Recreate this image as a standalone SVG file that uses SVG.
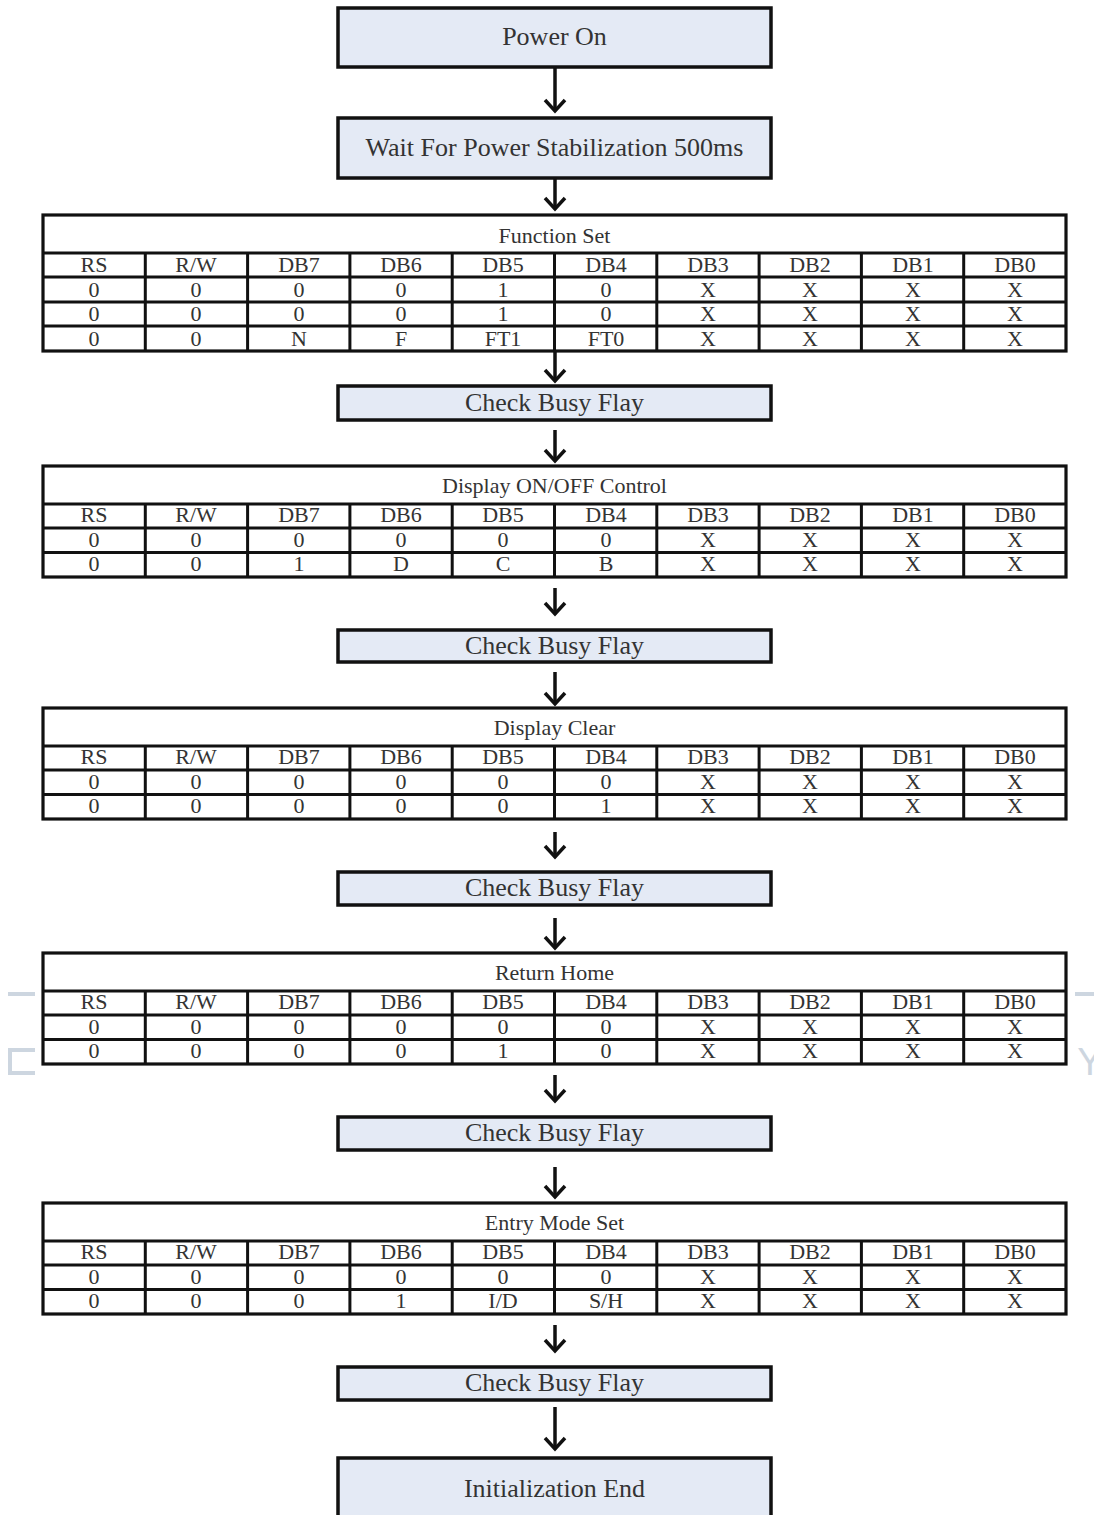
<svg xmlns="http://www.w3.org/2000/svg" width="1094" height="1515" viewBox="0 0 1094 1515">
<defs>
<style>
.box{fill:#e4eaf5;stroke:#111;stroke-width:3.5}
.bt{font-family:"Liberation Serif","Times New Roman",serif;font-size:26px;fill:#333;text-anchor:middle}
.tb{fill:#fff;stroke:#111;stroke-width:3.2}
.ln{stroke:#111;stroke-width:3;fill:none}
.tt{font-family:"Liberation Serif","Times New Roman",serif;font-size:22px;fill:#333;text-anchor:middle}
.ar{stroke:#111;stroke-width:3.5;fill:none}
.wm{fill:#cdd6e0}
</style>
<marker id="ah" viewBox="0 0 24 14" refX="12" refY="12" markerWidth="24" markerHeight="14" markerUnits="userSpaceOnUse" orient="0" overflow="visible">
<path d="M2,1 L12,12 L22,1" fill="none" stroke="#111" stroke-width="3.5"/>
</marker>
</defs>
<rect width="1094" height="1515" fill="#fff"/>

<g id="watermark">
<rect class="wm" x="8" y="992" width="27" height="4"/>
<path d="M35,1050 H10 V1073 H35" fill="none" stroke="#cdd6e0" stroke-width="4"/>
<rect class="wm" x="1075" y="992" width="19" height="4"/>
<text x="1090" y="1075" font-family="Liberation Sans, Arial, sans-serif" font-size="38" fill="#cdd6e0" text-anchor="middle">Y</text>
</g>

<g id="connectors">
<path class="ar" d="M555,67 V111" marker-end="url(#ah)"/>
<path class="ar" d="M555,178 V209" marker-end="url(#ah)"/>
<path class="ar" d="M555,351 V381" marker-end="url(#ah)"/>
<path class="ar" d="M555,430 V461" marker-end="url(#ah)"/>
<path class="ar" d="M555,588 V614" marker-end="url(#ah)"/>
<path class="ar" d="M555,672 V704" marker-end="url(#ah)"/>
<path class="ar" d="M555,832 V857" marker-end="url(#ah)"/>
<path class="ar" d="M555,918 V948" marker-end="url(#ah)"/>
<path class="ar" d="M555,1075 V1101" marker-end="url(#ah)"/>
<path class="ar" d="M555,1167 V1197" marker-end="url(#ah)"/>
<path class="ar" d="M555,1325 V1351" marker-end="url(#ah)"/>
<path class="ar" d="M555,1407 V1449" marker-end="url(#ah)"/>
</g>

<g id="power-on">
<rect class="box" x="338" y="8" width="433" height="59"/>
<text class="bt" x="554.5" y="45">Power On</text>
</g>

<g id="wait-power">
<rect class="box" x="338" y="118" width="433" height="60"/>
<text class="bt" x="554.5" y="156">Wait For Power Stabilization 500ms</text>
</g>

<g id="function-set">
<rect class="tb" x="43" y="215" width="1023" height="136"/>
<path class="ln" d="M43,253 H1066 M43,277 H1066 M43,302 H1066 M43,326 H1066"/>
<path class="ln" d="M145.3,253 V351 M247.6,253 V351 M349.9,253 V351 M452.2,253 V351 M554.5,253 V351 M656.8,253 V351 M759.1,253 V351 M861.4,253 V351 M963.7,253 V351"/>
<text class="tt" x="554.5" y="243">Function Set</text>
<text class="tt" x="94" y="272">RS</text><text class="tt" x="196" y="272">R/W</text><text class="tt" x="299" y="272">DB7</text><text class="tt" x="401" y="272">DB6</text><text class="tt" x="503" y="272">DB5</text><text class="tt" x="606" y="272">DB4</text><text class="tt" x="708" y="272">DB3</text><text class="tt" x="810" y="272">DB2</text><text class="tt" x="913" y="272">DB1</text><text class="tt" x="1015" y="272">DB0</text>
<text class="tt" x="94" y="297">0</text><text class="tt" x="196" y="297">0</text><text class="tt" x="299" y="297">0</text><text class="tt" x="401" y="297">0</text><text class="tt" x="503" y="297">1</text><text class="tt" x="606" y="297">0</text><text class="tt" x="708" y="297">X</text><text class="tt" x="810" y="297">X</text><text class="tt" x="913" y="297">X</text><text class="tt" x="1015" y="297">X</text>
<text class="tt" x="94" y="321">0</text><text class="tt" x="196" y="321">0</text><text class="tt" x="299" y="321">0</text><text class="tt" x="401" y="321">0</text><text class="tt" x="503" y="321">1</text><text class="tt" x="606" y="321">0</text><text class="tt" x="708" y="321">X</text><text class="tt" x="810" y="321">X</text><text class="tt" x="913" y="321">X</text><text class="tt" x="1015" y="321">X</text>
<text class="tt" x="94" y="346">0</text><text class="tt" x="196" y="346">0</text><text class="tt" x="299" y="346">N</text><text class="tt" x="401" y="346">F</text><text class="tt" x="503" y="346">FT1</text><text class="tt" x="606" y="346">FT0</text><text class="tt" x="708" y="346">X</text><text class="tt" x="810" y="346">X</text><text class="tt" x="913" y="346">X</text><text class="tt" x="1015" y="346">X</text>
</g>

<g id="check-busy-1">
<rect class="box" x="338" y="386" width="433" height="34"/>
<text class="bt" x="554.5" y="411">Check Busy Flay</text>
</g>

<g id="display-onoff">
<rect class="tb" x="43" y="466" width="1023" height="111"/>
<path class="ln" d="M43,504 H1066 M43,528 H1066 M43,552.5 H1066"/>
<path class="ln" d="M145.3,504 V577 M247.6,504 V577 M349.9,504 V577 M452.2,504 V577 M554.5,504 V577 M656.8,504 V577 M759.1,504 V577 M861.4,504 V577 M963.7,504 V577"/>
<text class="tt" x="554.5" y="493">Display ON/OFF Control</text>
<text class="tt" x="94" y="522">RS</text><text class="tt" x="196" y="522">R/W</text><text class="tt" x="299" y="522">DB7</text><text class="tt" x="401" y="522">DB6</text><text class="tt" x="503" y="522">DB5</text><text class="tt" x="606" y="522">DB4</text><text class="tt" x="708" y="522">DB3</text><text class="tt" x="810" y="522">DB2</text><text class="tt" x="913" y="522">DB1</text><text class="tt" x="1015" y="522">DB0</text>
<text class="tt" x="94" y="547">0</text><text class="tt" x="196" y="547">0</text><text class="tt" x="299" y="547">0</text><text class="tt" x="401" y="547">0</text><text class="tt" x="503" y="547">0</text><text class="tt" x="606" y="547">0</text><text class="tt" x="708" y="547">X</text><text class="tt" x="810" y="547">X</text><text class="tt" x="913" y="547">X</text><text class="tt" x="1015" y="547">X</text>
<text class="tt" x="94" y="571">0</text><text class="tt" x="196" y="571">0</text><text class="tt" x="299" y="571">1</text><text class="tt" x="401" y="571">D</text><text class="tt" x="503" y="571">C</text><text class="tt" x="606" y="571">B</text><text class="tt" x="708" y="571">X</text><text class="tt" x="810" y="571">X</text><text class="tt" x="913" y="571">X</text><text class="tt" x="1015" y="571">X</text>
</g>

<g id="check-busy-2">
<rect class="box" x="338" y="630" width="433" height="32"/>
<text class="bt" x="554.5" y="654">Check Busy Flay</text>
</g>

<g id="display-clear">
<rect class="tb" x="43" y="708" width="1023" height="111"/>
<path class="ln" d="M43,746 H1066 M43,770 H1066 M43,794.5 H1066"/>
<path class="ln" d="M145.3,746 V819 M247.6,746 V819 M349.9,746 V819 M452.2,746 V819 M554.5,746 V819 M656.8,746 V819 M759.1,746 V819 M861.4,746 V819 M963.7,746 V819"/>
<text class="tt" x="554.5" y="735">Display Clear</text>
<text class="tt" x="94" y="764">RS</text><text class="tt" x="196" y="764">R/W</text><text class="tt" x="299" y="764">DB7</text><text class="tt" x="401" y="764">DB6</text><text class="tt" x="503" y="764">DB5</text><text class="tt" x="606" y="764">DB4</text><text class="tt" x="708" y="764">DB3</text><text class="tt" x="810" y="764">DB2</text><text class="tt" x="913" y="764">DB1</text><text class="tt" x="1015" y="764">DB0</text>
<text class="tt" x="94" y="789">0</text><text class="tt" x="196" y="789">0</text><text class="tt" x="299" y="789">0</text><text class="tt" x="401" y="789">0</text><text class="tt" x="503" y="789">0</text><text class="tt" x="606" y="789">0</text><text class="tt" x="708" y="789">X</text><text class="tt" x="810" y="789">X</text><text class="tt" x="913" y="789">X</text><text class="tt" x="1015" y="789">X</text>
<text class="tt" x="94" y="813">0</text><text class="tt" x="196" y="813">0</text><text class="tt" x="299" y="813">0</text><text class="tt" x="401" y="813">0</text><text class="tt" x="503" y="813">0</text><text class="tt" x="606" y="813">1</text><text class="tt" x="708" y="813">X</text><text class="tt" x="810" y="813">X</text><text class="tt" x="913" y="813">X</text><text class="tt" x="1015" y="813">X</text>
</g>

<g id="check-busy-3">
<rect class="box" x="338" y="872" width="433" height="33"/>
<text class="bt" x="554.5" y="896">Check Busy Flay</text>
</g>

<g id="return-home">
<rect class="tb" x="43" y="953" width="1023" height="111"/>
<path class="ln" d="M43,991 H1066 M43,1015 H1066 M43,1039.5 H1066"/>
<path class="ln" d="M145.3,991 V1064 M247.6,991 V1064 M349.9,991 V1064 M452.2,991 V1064 M554.5,991 V1064 M656.8,991 V1064 M759.1,991 V1064 M861.4,991 V1064 M963.7,991 V1064"/>
<text class="tt" x="554.5" y="980">Return Home</text>
<text class="tt" x="94" y="1009">RS</text><text class="tt" x="196" y="1009">R/W</text><text class="tt" x="299" y="1009">DB7</text><text class="tt" x="401" y="1009">DB6</text><text class="tt" x="503" y="1009">DB5</text><text class="tt" x="606" y="1009">DB4</text><text class="tt" x="708" y="1009">DB3</text><text class="tt" x="810" y="1009">DB2</text><text class="tt" x="913" y="1009">DB1</text><text class="tt" x="1015" y="1009">DB0</text>
<text class="tt" x="94" y="1034">0</text><text class="tt" x="196" y="1034">0</text><text class="tt" x="299" y="1034">0</text><text class="tt" x="401" y="1034">0</text><text class="tt" x="503" y="1034">0</text><text class="tt" x="606" y="1034">0</text><text class="tt" x="708" y="1034">X</text><text class="tt" x="810" y="1034">X</text><text class="tt" x="913" y="1034">X</text><text class="tt" x="1015" y="1034">X</text>
<text class="tt" x="94" y="1058">0</text><text class="tt" x="196" y="1058">0</text><text class="tt" x="299" y="1058">0</text><text class="tt" x="401" y="1058">0</text><text class="tt" x="503" y="1058">1</text><text class="tt" x="606" y="1058">0</text><text class="tt" x="708" y="1058">X</text><text class="tt" x="810" y="1058">X</text><text class="tt" x="913" y="1058">X</text><text class="tt" x="1015" y="1058">X</text>
</g>

<g id="check-busy-4">
<rect class="box" x="338" y="1117" width="433" height="33"/>
<text class="bt" x="554.5" y="1141">Check Busy Flay</text>
</g>

<g id="entry-mode-set">
<rect class="tb" x="43" y="1203" width="1023" height="111"/>
<path class="ln" d="M43,1241 H1066 M43,1265 H1066 M43,1289.5 H1066"/>
<path class="ln" d="M145.3,1241 V1314 M247.6,1241 V1314 M349.9,1241 V1314 M452.2,1241 V1314 M554.5,1241 V1314 M656.8,1241 V1314 M759.1,1241 V1314 M861.4,1241 V1314 M963.7,1241 V1314"/>
<text class="tt" x="554.5" y="1230">Entry Mode Set</text>
<text class="tt" x="94" y="1259">RS</text><text class="tt" x="196" y="1259">R/W</text><text class="tt" x="299" y="1259">DB7</text><text class="tt" x="401" y="1259">DB6</text><text class="tt" x="503" y="1259">DB5</text><text class="tt" x="606" y="1259">DB4</text><text class="tt" x="708" y="1259">DB3</text><text class="tt" x="810" y="1259">DB2</text><text class="tt" x="913" y="1259">DB1</text><text class="tt" x="1015" y="1259">DB0</text>
<text class="tt" x="94" y="1284">0</text><text class="tt" x="196" y="1284">0</text><text class="tt" x="299" y="1284">0</text><text class="tt" x="401" y="1284">0</text><text class="tt" x="503" y="1284">0</text><text class="tt" x="606" y="1284">0</text><text class="tt" x="708" y="1284">X</text><text class="tt" x="810" y="1284">X</text><text class="tt" x="913" y="1284">X</text><text class="tt" x="1015" y="1284">X</text>
<text class="tt" x="94" y="1308">0</text><text class="tt" x="196" y="1308">0</text><text class="tt" x="299" y="1308">0</text><text class="tt" x="401" y="1308">1</text><text class="tt" x="503" y="1308">I/D</text><text class="tt" x="606" y="1308">S/H</text><text class="tt" x="708" y="1308">X</text><text class="tt" x="810" y="1308">X</text><text class="tt" x="913" y="1308">X</text><text class="tt" x="1015" y="1308">X</text>
</g>

<g id="check-busy-5">
<rect class="box" x="338" y="1367" width="433" height="33"/>
<text class="bt" x="554.5" y="1391">Check Busy Flay</text>
</g>

<g id="init-end">
<path class="box" d="M338,1520 V1458 H771 V1520"/>
<text class="bt" x="554.5" y="1497">Initialization End</text>
</g>
</svg>
